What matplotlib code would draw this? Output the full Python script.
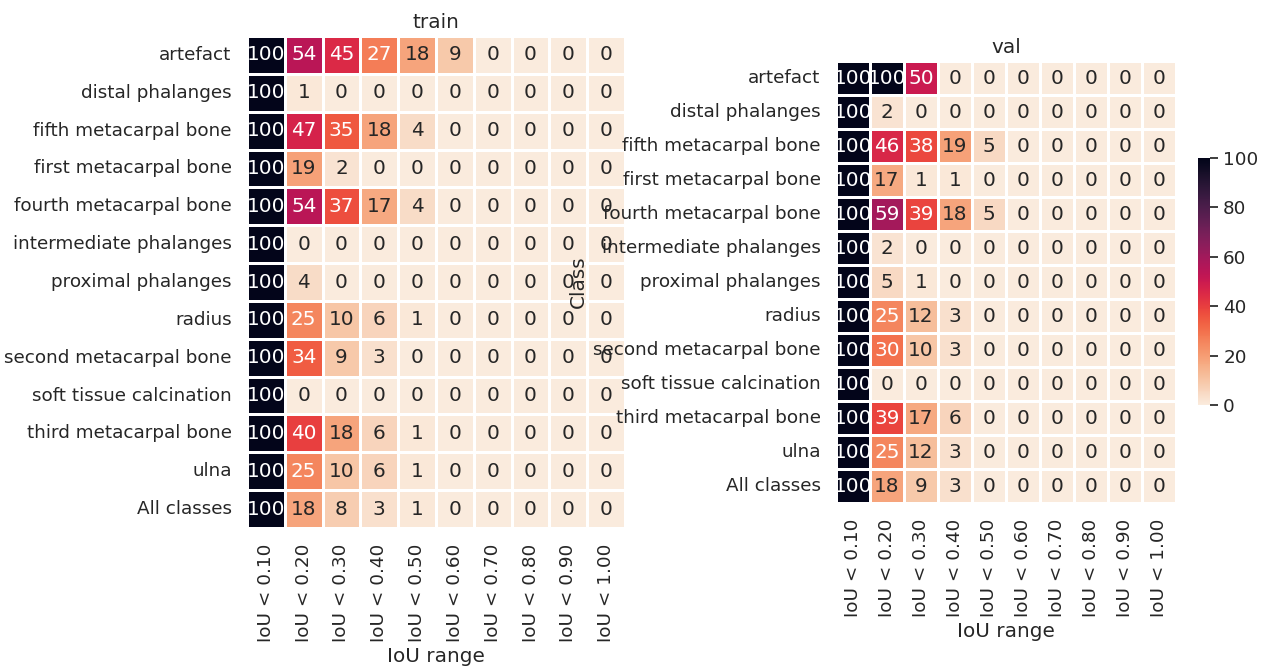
import matplotlib
matplotlib.use("Agg")
import matplotlib.pyplot as plt
import numpy as np
import pandas as pd
import seaborn as sns

# class names and IoU bins
classes = ["artefact", "distal phalanges", "fifth metacarpal bone", "first metacarpal bone",
           "fourth metacarpal bone", "intermediate phalanges", "proximal phalanges", "radius",
           "second metacarpal bone", "soft tissue calcination", "third metacarpal bone",
           "ulna", "All classes"]
iou_bins = ["IoU < 0.10", "IoU < 0.20", "IoU < 0.30", "IoU < 0.40", "IoU < 0.50",
            "IoU < 0.60", "IoU < 0.70", "IoU < 0.80", "IoU < 0.90", "IoU < 1.00"]

# percentages per class (train)
train_vals = [
    [100, 54, 45, 27, 18, 9, 0, 0, 0, 0],
    [100, 1, 0, 0, 0, 0, 0, 0, 0, 0],
    [100, 47, 35, 18, 4, 0, 0, 0, 0, 0],
    [100, 19, 2, 0, 0, 0, 0, 0, 0, 0],
    [100, 54, 37, 17, 4, 0, 0, 0, 0, 0],
    [100, 0, 0, 0, 0, 0, 0, 0, 0, 0],
    [100, 4, 0, 0, 0, 0, 0, 0, 0, 0],
    [100, 25, 10, 6, 1, 0, 0, 0, 0, 0],
    [100, 34, 9, 3, 0, 0, 0, 0, 0, 0],
    [100, 0, 0, 0, 0, 0, 0, 0, 0, 0],
    [100, 40, 18, 6, 1, 0, 0, 0, 0, 0],
    [100, 25, 10, 6, 1, 0, 0, 0, 0, 0],
    [100, 18, 8, 3, 1, 0, 0, 0, 0, 0],
]

# percentages per class (val)
val_vals = [
    [100, 100, 50, 0, 0, 0, 0, 0, 0, 0],
    [100, 2, 0, 0, 0, 0, 0, 0, 0, 0],
    [100, 46, 38, 19, 5, 0, 0, 0, 0, 0],
    [100, 17, 1, 1, 0, 0, 0, 0, 0, 0],
    [100, 59, 39, 18, 5, 0, 0, 0, 0, 0],
    [100, 2, 0, 0, 0, 0, 0, 0, 0, 0],
    [100, 5, 1, 0, 0, 0, 0, 0, 0, 0],
    [100, 25, 12, 3, 0, 0, 0, 0, 0, 0],
    [100, 30, 10, 3, 0, 0, 0, 0, 0, 0],
    [100, 0, 0, 0, 0, 0, 0, 0, 0, 0],
    [100, 39, 17, 6, 0, 0, 0, 0, 0, 0],
    [100, 25, 12, 3, 0, 0, 0, 0, 0, 0],
    [100, 18, 9, 3, 0, 0, 0, 0, 0, 0],
]

sns.set_theme(font_scale=1.2)

W, H = 1268, 668
fig = plt.figure(figsize=(W / 100, H / 100), dpi=100)

def px_axes(x0, y0, x1, y1):
    return fig.add_axes([x0 / W, 1 - y1 / H, (x1 - x0) / W, (y1 - y0) / H])

ax_train = px_axes(247, 36, 625, 528)
ax_val = px_axes(836, 61, 1176, 503)
cax = px_axes(1198, 158, 1210, 405)

df_train = pd.DataFrame(train_vals, index=classes, columns=iou_bins)
df_val = pd.DataFrame(val_vals, index=classes, columns=iou_bins)

sns.heatmap(df_train, ax=ax_train, cmap="rocket_r", vmin=0, vmax=100,
            annot=True, fmt="d", linewidths=1, cbar=False)
sns.heatmap(df_val, ax=ax_val, cmap="rocket_r", vmin=0, vmax=100,
            annot=True, fmt="d", linewidths=1, cbar_ax=cax)

for ax, name in [(ax_train, "train"), (ax_val, "val")]:
    ax.set_title(name)
    ax.set_xlabel("IoU range")
    ax.set_xticklabels(iou_bins, rotation=90)
    ax.set_yticklabels(classes, rotation=0)
    ax.tick_params(axis="both", pad=5)

ax_train.set_ylabel("")
ax_val.set_ylabel("Class")

cax.set_yticks([0, 20, 40, 60, 80, 100])

fig.savefig("out.png", dpi=100)
